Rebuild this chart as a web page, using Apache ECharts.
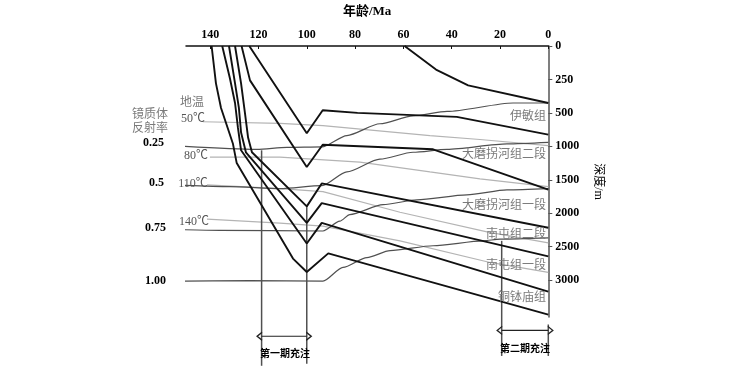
<!DOCTYPE html>
<html><head><meta charset="utf-8">
<script src="https://cdn.jsdelivr.net/npm/echarts@6/dist/echarts.min.js"></script>
<style>html,body{margin:0;padding:0;background:#fff}#c{width:750px;height:375px}</style>
</head><body><div id="c"></div>
<script>
// ---------------- data (age Ma, depth m) ----------------
const ageTicks = [0, 20, 40, 60, 80, 100, 120, 140];
const depthTicks = [0, 250, 500, 1000, 1500, 2000, 2500, 3000];
const formationNames = ['伊敏组', '大磨拐河组二段', '大磨拐河组一段', '南屯组二段', '南屯组一段', '铜钵庙组'];

// burial curves (horizons)
const topYimin    = [[59.5,0],[46.5,176],[33.2,294],[0,426]];
const baseYimin   = [[123.8,0],[100,804],[93.4,480],[79,500],[37.9,559],[0,824]];
const baseDamo2   = [[127,0],[123.5,257],[100,1309],[93.4,975],[47.7,1044],[0,1647]];
const baseDamo1   = [[129.7,0],[127.2,279],[125.6,500],[124.3,868],[122.7,1088],[100,1897],[93.8,1554],[0,2216]];
const baseNantun2 = [[132.2,0],[129.7,279],[128.1,463],[127.2,794],[125.2,1088],[100,2143],[93.8,1849],[0,2643]];
const baseNantun1 = [[135,0],[131.8,243],[129.7,426],[128.5,721],[127.2,1059],[100,2451],[93.8,2143],[0,3172]];
const baseTongbo  = [[139.4,0],[137.6,279],[135.5,463],[130.6,956],[129,1250],[105.7,2677],[100,2878],[91.1,2599],[0,3515]];

// vitrinite reflectance iso-lines
const roLabels = ['0.25', '0.5', '0.75', '1.00'];
const ro025 = [[157.5,985],[120.6,1044],[108.2,1015],[93.7,1007],[83.4,838],[69.7,662],[56,544],[41.9,489],[14.6,426],[0,426]];
const ro050 = [[157.5,1574],[131.8,1603],[111.1,1632],[93.7,1588],[83.4,1382],[69.7,1191],[56,1088],[41.9,1044],[17.1,963],[0,941]];
const ro075 = [[157.5,2240],[135.9,2254],[93.3,2265],[86.3,2118],[82.2,2019],[68.4,1872],[54.4,1799],[33.7,1725],[17.1,1651],[0,1632]];
const ro100 = [[157.5,3015],[123.5,3007],[93.3,3015],[85,2809],[75.1,2662],[65.5,2559],[47.7,2485],[27,2412],[20,2387],[0,2368]];

// isotherms
const tempLabels = ['50℃', '80℃', '110℃', '140℃'];
const t50  = [[143,632],[111.1,657],[93.3,691],[49,838],[28.3,897],[0,990]];
const t80  = [[140.1,1162],[111.1,1162],[78,1235],[49,1382],[28.3,1485],[0,1603]];
const t110 = [[141.3,1574],[111.1,1632],[93.3,1676],[61.4,1985],[25.4,2279],[0,2441]];
const t140 = [[141.3,2088],[111.1,2147],[93.3,2191],[61.4,2412],[24.1,2735],[0,2882]];

// hydrocarbon charging periods
const chargeNames = ['第一期充注', '第二期充注'];
const charge1Lines = [[[118.7,1059],[118.7,4279]], [[100,1897],[100,4250]]];
const charge1Arrow = [[118.7,3838],[100,3838]];
const charge2Lines = [[[19.3,2412],[19.3,4132]], [[0,3662],[0,4132]]];
const charge2Arrow = [[19.3,3750],[0,3750]];

// ---------------- chart ----------------
// depth axis is stretched 2x above 500 m (0,250,500 then 1000,1500,...)
const ty = d => d <= 500 ? d * 2 : d + 500;
const fromAxis = v => v <= 1000 ? v / 2 : v - 500;
const conv = arr => arr.map(p => [p[0], ty(p[1])]);

const SERIF = "'Liberation Serif','Noto Sans CJK SC',serif";

function lineSeries(data, color, width, z, extra) {
  return Object.assign({
    type: 'line', data: conv(data), showSymbol: false, symbol: 'none',
    clip: false, silent: true, animation: false, z: z,
    lineStyle: { color: color, width: width }
  }, extra || {});
}

const series = [];
[t50, t80, t110, t140].forEach(d => series.push(lineSeries(d, '#b4b4b4', 1.2, 2)));
[ro025, ro050, ro075, ro100].forEach(d => series.push(lineSeries(d, '#505050', 1.2, 3, { smooth: 0.25, smoothMonotone: 'x' })));
charge1Lines.concat(charge2Lines).forEach(d => series.push(lineSeries(d, '#505050', 1.5, 4)));
[topYimin, baseYimin, baseDamo2, baseDamo1, baseNantun2, baseNantun1, baseTongbo]
  .forEach(d => series.push(lineSeries(d, '#111', 1.9, 6)));

function arrowSeries(a) {
  const pts = conv(a);
  return {
    type: 'line', clip: false, silent: true, animation: false, z: 5,
    showSymbol: true, symbol: 'path://M0,0L10,5L0,10', symbolSize: [5, 8],
    itemStyle: { color: 'rgba(0,0,0,0)', borderColor: '#222', borderWidth: 1.2 },
    lineStyle: { color: '#222', width: 1.2 },
    data: [{ value: pts[0], symbolRotate: 180, symbolOffset: [-2, 0] }, { value: pts[1], symbolRotate: 0, symbolOffset: [2, 0] }]
  };
}
series.push(arrowSeries(charge1Arrow));
series.push(arrowSeries(charge2Arrow));

function txt(text, x, y, opt) {
  opt = opt || {};
  return {
    type: 'text', x: x, y: y, silent: true, z: 10,
    style: {
      text: text, fill: opt.fill || '#000',
      font: (opt.weight || 'normal') + ' ' + (opt.size || 12) + 'px ' + SERIF,
      align: opt.align || 'center', verticalAlign: 'middle'
    }
  };
}

const GREY = '#7a7a7a';
const graphic = [
  txt(formationNames[0], 546, 117, { align: 'right', fill: GREY }),
  txt(formationNames[1], 546, 155, { align: 'right', fill: GREY }),
  txt(formationNames[2], 546, 206, { align: 'right', fill: GREY }),
  txt(formationNames[3], 546, 235, { align: 'right', fill: GREY }),
  txt(formationNames[4], 546, 266, { align: 'right', fill: GREY }),
  txt(formationNames[5], 546, 298, { align: 'right', fill: GREY }),
  txt('地温', 192, 103, { fill: GREY }),
  txt('镜质体', 150, 115, { fill: GREY }),
  txt('反射率', 150, 129, { fill: GREY }),
  txt(tempLabels[0], 193, 119, { fill: '#555' }),
  txt(tempLabels[1], 196, 156, { fill: '#555' }),
  txt(tempLabels[2], 193, 184, { fill: '#555' }),
  txt(tempLabels[3], 194, 222, { fill: '#555' }),
  txt(roLabels[0], 164, 143, { align: 'right', weight: 'bold' }),
  txt(roLabels[1], 164, 183, { align: 'right', weight: 'bold' }),
  txt(roLabels[2], 166, 228, { align: 'right', weight: 'bold' }),
  txt(roLabels[3], 166, 281, { align: 'right', weight: 'bold' }),
  txt(chargeNames[0], 285, 354, { weight: 'bold', size: 10 }),
  txt(chargeNames[1], 525, 349, { weight: 'bold', size: 10 })
];

const option = {
  animation: false,
  backgroundColor: '#fff',
  grid: { left: 186, right: 201.7, top: 42, height: 275, containLabel: false },
  xAxis: {
    type: 'value', position: 'top', inverse: true, min: 0, max: 150,
    name: '年龄/Ma', nameLocation: 'middle', nameGap: 28,
    nameTextStyle: { fontFamily: SERIF, fontWeight: 'bold', fontSize: 13, color: '#000' },
    axisLine: { show: true, lineStyle: { color: '#111', width: 1.5 } },
    axisTick: { show: true, inside: true, length: 3, customValues: ageTicks, lineStyle: { color: '#111' } },
    axisLabel: { customValues: ageTicks, margin: 5, fontFamily: SERIF, fontWeight: 'bold', fontSize: 12, color: '#000' },
    splitLine: { show: false }
  },
  yAxis: {
    type: 'value', position: 'right', inverse: true, min: 0, max: ty(3550),
    name: '深度/m', nameLocation: 'middle', nameGap: 44, nameRotate: -90,
    nameTextStyle: { fontFamily: SERIF, fontSize: 12, color: '#000' },
    axisLine: { show: true, lineStyle: { color: '#555', width: 1.5 } },
    axisTick: { show: true, inside: false, length: 4, customValues: depthTicks.map(ty), lineStyle: { color: '#555' } },
    axisLabel: { customValues: depthTicks.map(ty), margin: 7, fontFamily: SERIF, fontWeight: 'bold', fontSize: 12, color: '#000',
      formatter: v => String(Math.round(fromAxis(v))) },
    splitLine: { show: false }
  },
  graphic: graphic,
  series: series
};

const chart = echarts.init(document.getElementById('c'), null, { renderer: 'canvas' });
chart.setOption(option);
</script>
</body></html>
